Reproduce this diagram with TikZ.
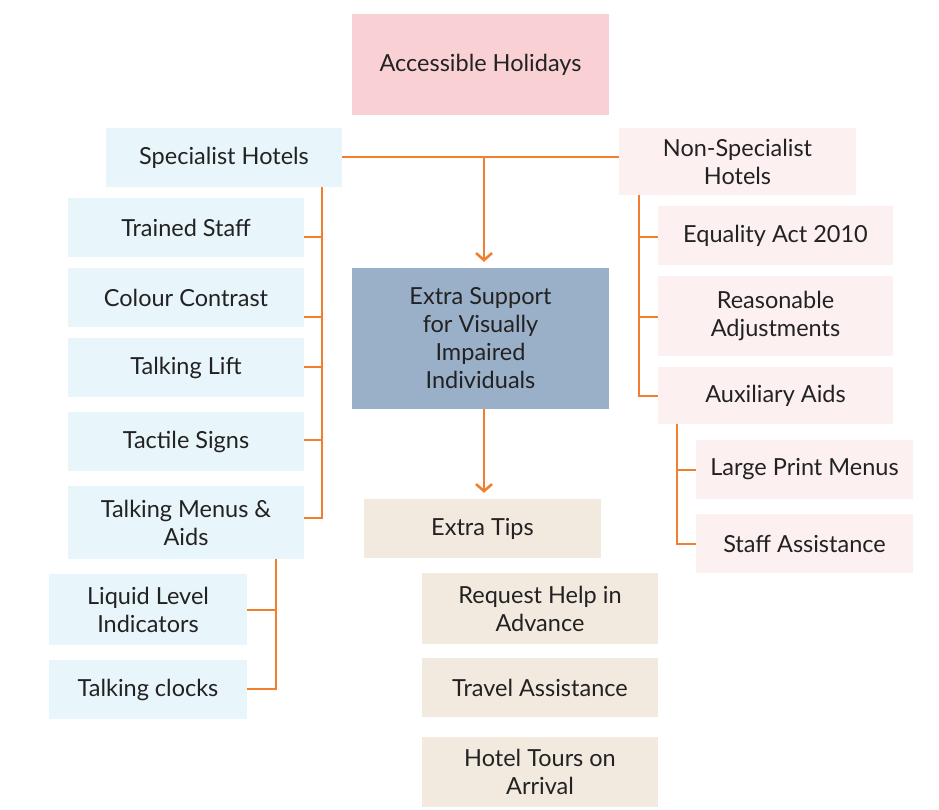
\documentclass[tikz,border=0pt]{standalone}
\usepackage{fontspec}
\setmainfont{Lato}
\usetikzlibrary{arrows.meta}
\definecolor{orangeln}{HTML}{F07F2F}
\definecolor{pinkA}{HTML}{F9D1D4}
\definecolor{blueL}{HTML}{E8F5FA}
\definecolor{pinkL}{HTML}{FCF0F1}
\definecolor{steel}{HTML}{9AAFC8}
\definecolor{beige}{HTML}{F2E9DF}
\definecolor{ink}{HTML}{222222}
\tikzset{
  box/.style={rectangle, inner sep=0pt, align=center, text=ink,
    font=\fontsize{23.5}{28}\selectfont},
  conn/.style={draw=orangeln, line width=2.6pt},
  arr/.style={conn, -{Straight Barb[length=7pt,width=16pt,line width=2.6pt]}, shorten >=6pt}
}
\begin{document}
\begin{tikzpicture}[x=1pt,y=-1pt]
\useasboundingbox (0,0) rectangle (939,809);
% top
\node[box, fill=pinkA, minimum width=257pt, minimum height=101pt] (ah) at (480.5,64.5) {Accessible Holidays};
% left column
\node[box, fill=blueL, minimum width=236pt, minimum height=59pt] (sh) at (224,157.5) {Specialist Hotels};
\node[box, fill=blueL, minimum width=236pt, minimum height=59pt] (ts) at (186,227.5) {Trained Staff};
\node[box, fill=blueL, minimum width=236pt, minimum height=59pt] (cc) at (186,297.5) {Colour Contrast};
\node[box, fill=blueL, minimum width=236pt, minimum height=59pt] (tl) at (186,367.5) {Talking Lift};
\node[box, fill=blueL, minimum width=236pt, minimum height=59pt] (tsg) at (186,441.5) {Tactile Signs};
\node[box, fill=blueL, minimum width=236pt, minimum height=73pt] (tm) at (186,522.5) {Talking Menus \&\\Aids};
\node[box, fill=blueL, minimum width=198pt, minimum height=71pt] (ll) at (148,609.5) {Liquid Level\\Indicators};
\node[box, fill=blueL, minimum width=198pt, minimum height=59pt] (tc) at (148,689.5) {Talking clocks};
% right column
\node[box, fill=pinkL, minimum width=237pt, minimum height=67pt] (ns) at (737.5,161.5) {Non-Specialist\\Hotels};
\node[box, fill=pinkL, minimum width=235pt, minimum height=59pt] (eq) at (775.5,235.5) {Equality Act 2010};
\node[box, fill=pinkL, minimum width=235pt, minimum height=80pt] (ra) at (775.5,316) {Reasonable\\Adjustments};
\node[box, fill=pinkL, minimum width=235pt, minimum height=57pt] (ax) at (775.5,395.5) {Auxiliary Aids};
\node[box, fill=pinkL, minimum width=217pt, minimum height=59pt] (lp) at (804.5,469.5) {Large Print Menus};
\node[box, fill=pinkL, minimum width=217pt, minimum height=59pt] (sa) at (804.5,543.5) {Staff Assistance};
% centre column
\node[box, fill=steel, minimum width=257pt, minimum height=141pt] (es) at (480.5,338.5) {Extra Support\\for Visually\\Impaired\\Individuals};
\node[box, fill=beige, minimum width=237pt, minimum height=59pt] (et) at (482.5,528.5) {Extra Tips};
\node[box, fill=beige, minimum width=236pt, minimum height=71pt] (rh) at (540,608.5) {Request Help in\\Advance};
\node[box, fill=beige, minimum width=236pt, minimum height=59pt] (tr) at (540,687.5) {Travel Assistance};
\node[box, fill=beige, minimum width=236pt, minimum height=70pt] (ht) at (540,772) {Hotel Tours on\\Arrival};
% branch points
\coordinate (m) at (484,157);
\coordinate (b1) at (322,237);
\coordinate (b2) at (322,317);
\coordinate (b3) at (322,367);
\coordinate (b4) at (322,440);
\coordinate (b5) at (322,518);
\coordinate (c1) at (276,610);
\coordinate (c2) at (276,689);
\coordinate (r1) at (639,237);
\coordinate (r2) at (639,317);
\coordinate (r3) at (639,396);
\coordinate (s1) at (677,470);
\coordinate (s2) at (677,544);
% connectors
\draw[conn] (sh.east |- m) -- (ns.west |- m);
\draw[arr] (m) -- (m |- es.north);
\draw[arr] (m |- es.south) -- (m |- et.north);
\draw[conn] (sh.south -| b1) -- (b5) -- (b5 -| tm.east);
\draw[conn] (b1) -- (b1 -| ts.east);
\draw[conn] (b2) -- (b2 -| cc.east);
\draw[conn] (b3) -- (b3 -| tl.east);
\draw[conn] (b4) -- (b4 -| tsg.east);
\draw[conn] (tm.south -| c1) -- (c2) -- (c2 -| tc.east);
\draw[conn] (c1) -- (c1 -| ll.east);
\draw[conn] (ns.south -| r1) -- (r3) -- (r3 -| ax.west);
\draw[conn] (r1) -- (r1 -| eq.west);
\draw[conn] (r2) -- (r2 -| ra.west);
\draw[conn] (ax.south -| s1) -- (s2) -- (s2 -| sa.west);
\draw[conn] (s1) -- (s1 -| lp.west);
\end{tikzpicture}
\end{document}
